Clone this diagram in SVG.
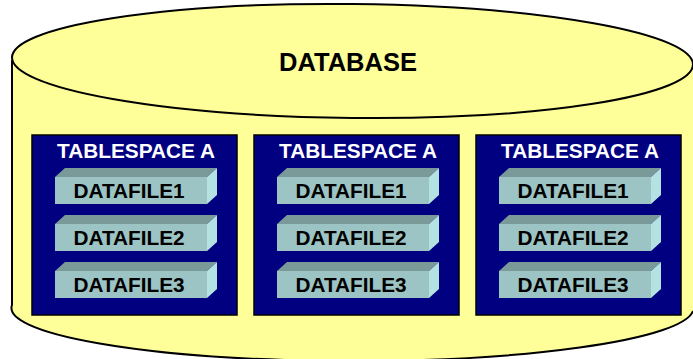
<svg xmlns="http://www.w3.org/2000/svg" width="693" height="359" viewBox="0 0 693 359">
  <style>
    .cyl { fill: #ffff99; }
    .edge { fill: none; stroke: #000; stroke-width: 2; }
    .ts { fill: #000080; stroke: #000; stroke-width: 1.5; }
    .ts-title { font-family: "Liberation Sans", Arial, sans-serif; font-weight: bold; font-size: 20px; fill: #fff; text-anchor: middle; }
    .df-front { fill: #9cc4c4; }
    .df-top { fill: #7a9a9a; }
    .df-side { fill: #b4e2e2; }
    .df-label { font-family: "Liberation Sans", Arial, sans-serif; font-weight: bold; font-size: 20px; fill: #000; text-anchor: middle; }
    .db-label { font-family: "Liberation Sans", Arial, sans-serif; font-weight: bold; font-size: 25.5px; fill: #000; text-anchor: middle; }
  </style>
  <defs>
    <!-- one datafile block: front face 152x27, depth 10x9 -->
    <g id="datafile">
      <polygon class="df-top" points="0,9 10,0 162,0 152,9"/>
      <polygon class="df-side" points="152,9 162,0 162,27 152,36"/>
      <rect class="df-front" x="0" y="9" width="152" height="27"/>
    </g>
  </defs>

  <!-- database cylinder -->
  <g id="database">
    <path class="cyl" d="M12,60 L12,305 A341,53 0 0 0 693,311 L693,67 Z"/>
    <path class="edge" d="M12,60 L12,305 A341,53 0 0 0 693,311"/>
    <ellipse class="cyl" cx="352.5" cy="61" rx="340.5" ry="57" transform="rotate(0.6 352.5 61)" stroke="#000" stroke-width="2"/>
    <text class="db-label" x="348" y="71">DATABASE</text>
  </g>

  <!-- tablespace 1 -->
  <g id="tablespace1">
    <rect class="ts" x="32" y="135" width="205" height="180"/>
    <text class="ts-title" x="136" y="158" textLength="158" lengthAdjust="spacingAndGlyphs">TABLESPACE A</text>
    <g id="ts1-df1"><use href="#datafile" x="55" y="168"/><text class="df-label" x="129" y="198" textLength="111" lengthAdjust="spacingAndGlyphs">DATAFILE1</text></g>
    <g id="ts1-df2"><use href="#datafile" x="55" y="215"/><text class="df-label" x="129" y="245" textLength="111" lengthAdjust="spacingAndGlyphs">DATAFILE2</text></g>
    <g id="ts1-df3"><use href="#datafile" x="55" y="262"/><text class="df-label" x="129" y="292" textLength="111" lengthAdjust="spacingAndGlyphs">DATAFILE3</text></g>
  </g>

  <!-- tablespace 2 -->
  <g id="tablespace2">
    <rect class="ts" x="254" y="135" width="205" height="180"/>
    <text class="ts-title" x="358" y="158" textLength="158" lengthAdjust="spacingAndGlyphs">TABLESPACE A</text>
    <g id="ts2-df1"><use href="#datafile" x="277" y="168"/><text class="df-label" x="351" y="198" textLength="111" lengthAdjust="spacingAndGlyphs">DATAFILE1</text></g>
    <g id="ts2-df2"><use href="#datafile" x="277" y="215"/><text class="df-label" x="351" y="245" textLength="111" lengthAdjust="spacingAndGlyphs">DATAFILE2</text></g>
    <g id="ts2-df3"><use href="#datafile" x="277" y="262"/><text class="df-label" x="351" y="292" textLength="111" lengthAdjust="spacingAndGlyphs">DATAFILE3</text></g>
  </g>

  <!-- tablespace 3 -->
  <g id="tablespace3">
    <rect class="ts" x="476" y="135" width="205" height="180"/>
    <text class="ts-title" x="580" y="158" textLength="158" lengthAdjust="spacingAndGlyphs">TABLESPACE A</text>
    <g id="ts3-df1"><use href="#datafile" x="499" y="168"/><text class="df-label" x="573" y="198" textLength="111" lengthAdjust="spacingAndGlyphs">DATAFILE1</text></g>
    <g id="ts3-df2"><use href="#datafile" x="499" y="215"/><text class="df-label" x="573" y="245" textLength="111" lengthAdjust="spacingAndGlyphs">DATAFILE2</text></g>
    <g id="ts3-df3"><use href="#datafile" x="499" y="262"/><text class="df-label" x="573" y="292" textLength="111" lengthAdjust="spacingAndGlyphs">DATAFILE3</text></g>
  </g>

  <!-- no connectors in this diagram -->
  <g id="connectors"/>
</svg>
